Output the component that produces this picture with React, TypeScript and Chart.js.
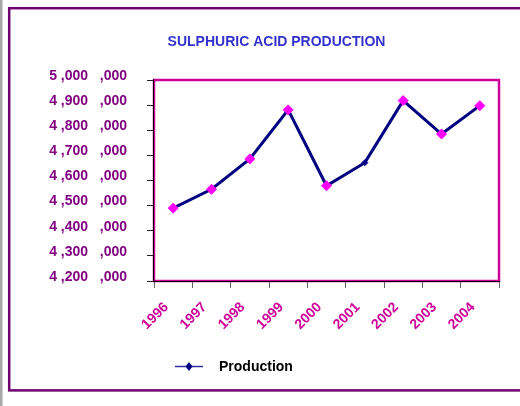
import React, { useEffect, useRef } from "react";
import { Chart, registerables } from "chart.js";

Chart.register(...registerables);

const chartTitle = "SULPHURIC ACID PRODUCTION";
const seriesName = "Production";
const years = ["1996", "1997", "1998", "1999", "2000", "2001", "2002", "2003", "2004"];
const production = [4490000, 4565000, 4686000, 4881000, 4579000, 4671000, 4918000, 4785000, 4898000];
const yTickValues = [4200000, 4300000, 4400000, 4500000, 4600000, 4700000, 4800000, 4900000, 5000000];
const yTickLabels = [
  "4 ,200   ,000",
  "4 ,300   ,000",
  "4 ,400   ,000",
  "4 ,500   ,000",
  "4 ,600   ,000",
  "4 ,700   ,000",
  "4 ,800   ,000",
  "4 ,900   ,000",
  "5 ,000   ,000",
];

const FONT = "'Liberation Sans', Arial, sans-serif";
const NAVY = "#000080";
const MAGENTA = "#FF00FF";
const PLOT_BORDER = "#CC0099";

const framePlugin = {
  id: "frame",
  beforeDraw(chart: any) {
    const ctx = chart.ctx;
    ctx.save();
    ctx.fillStyle = "#a8a8a8";
    ctx.fillRect(0, 0, 2.5, chart.height);
    ctx.strokeStyle = "#700070";
    ctx.lineWidth = 2.5;
    ctx.strokeRect(9.2, 8.2, 600, 382.2);
    ctx.restore();
  },
  beforeDatasetsDraw(chart: any) {
    const { left, top, right, bottom } = chart.chartArea;
    const ctx = chart.ctx;
    ctx.save();
    ctx.strokeStyle = PLOT_BORDER;
    ctx.lineWidth = 2.5;
    ctx.strokeRect(left, top, right - left, bottom - top);
    ctx.strokeStyle = "#000000";
    ctx.lineWidth = 1;
    ctx.beginPath();
    const lx = Math.round(left) - 0.5;
    const by = Math.round(bottom) + 0.5;
    ctx.moveTo(lx, top - 1);
    ctx.lineTo(lx, by);
    ctx.lineTo(right + 1, by);
    ctx.stroke();
    ctx.restore();
  },
  afterDraw(chart: any) {
    const ctx = chart.ctx;
    ctx.save();
    // title
    ctx.fillStyle = "#3333CC";
    ctx.font = `bold 14px ${FONT}`;
    ctx.textAlign = "center";
    ctx.textBaseline = "middle";
    ctx.fillText(chartTitle, 276.5, 42);
    // legend
    const label = chart.data.datasets[0].label;
    const y = 366.5;
    ctx.strokeStyle = "#3030a0";
    ctx.lineWidth = 1.5;
    ctx.beginPath();
    ctx.moveTo(175, y);
    ctx.lineTo(203, y);
    ctx.stroke();
    ctx.fillStyle = NAVY;
    ctx.beginPath();
    ctx.moveTo(189, y - 4.5);
    ctx.lineTo(192.5, y);
    ctx.lineTo(189, y + 4.5);
    ctx.lineTo(185.5, y);
    ctx.closePath();
    ctx.fill();
    ctx.fillStyle = "#000000";
    ctx.textAlign = "left";
    ctx.fillText(label, 219, y + 0.5);
    ctx.restore();
  },
};

export default function App() {
  const canvasRef = useRef<HTMLCanvasElement | null>(null);

  useEffect(() => {
    const canvas = canvasRef.current;
    if (!canvas) return;
    const chart = new Chart(canvas, {
      type: "line",
      data: {
        labels: years,
        datasets: [
          {
            label: seriesName,
            data: production,
            borderColor: NAVY,
            borderWidth: 3,
            tension: 0,
            pointStyle: "rectRot",
            pointRadius: (c: any) => (c.dataIndex === 5 ? 3 : 5),
            pointBackgroundColor: (c: any) => (c.dataIndex === 5 ? NAVY : MAGENTA),
            pointBorderColor: (c: any) => (c.dataIndex === 5 ? NAVY : MAGENTA),
            pointBorderWidth: 1,
          },
        ],
      },
      options: {
        responsive: false,
        animation: false,
        devicePixelRatio: 1,
        layout: { padding: { left: 40, right: 21, top: 80, bottom: 0 } },
        plugins: {
          legend: { display: false },
          tooltip: { enabled: false },
          title: { display: false },
        },
        scales: {
          x: {
            type: "category",
            offset: true,
            afterFit: (s: any) => {
              s.height = 125;
            },
            grid: {
              offset: true,
              drawOnChartArea: false,
              drawTicks: true,
              tickLength: 7,
              tickColor: "#666666",
            },
            border: { display: false },
            ticks: {
              autoSkip: false,
              minRotation: 45,
              maxRotation: 45,
              padding: 11,
              labelOffset: -7,
              color: "#CC0099",
              font: { family: FONT, size: 14, weight: "bold" },
            },
          },
          y: {
            min: 4200000,
            max: 5000000,
            afterFit: (s: any) => {
              s.width = 114;
            },
            afterBuildTicks: (s: any) => {
              s.ticks = yTickValues.map((v) => ({ value: v }));
            },
            grid: {
              drawOnChartArea: false,
              drawTicks: true,
              tickLength: 7,
              tickColor: "#222222",
            },
            border: { display: false },
            ticks: {
              padding: 20,
              labelOffset: -4,
              color: "#800080",
              font: { family: FONT, size: 14, weight: "bold" },
              callback: (value: any) => {
                const i = yTickValues.indexOf(Number(value));
                return i >= 0 ? yTickLabels[i] : "";
              },
            },
          },
        },
      },
      plugins: [framePlugin],
    });
    return () => chart.destroy();
  }, []);

  return (
    <canvas
      ref={canvasRef}
      width={520}
      height={406}
      style={{ position: "fixed", left: 0, top: 0, width: 520, height: 406 }}
    />
  );
}
